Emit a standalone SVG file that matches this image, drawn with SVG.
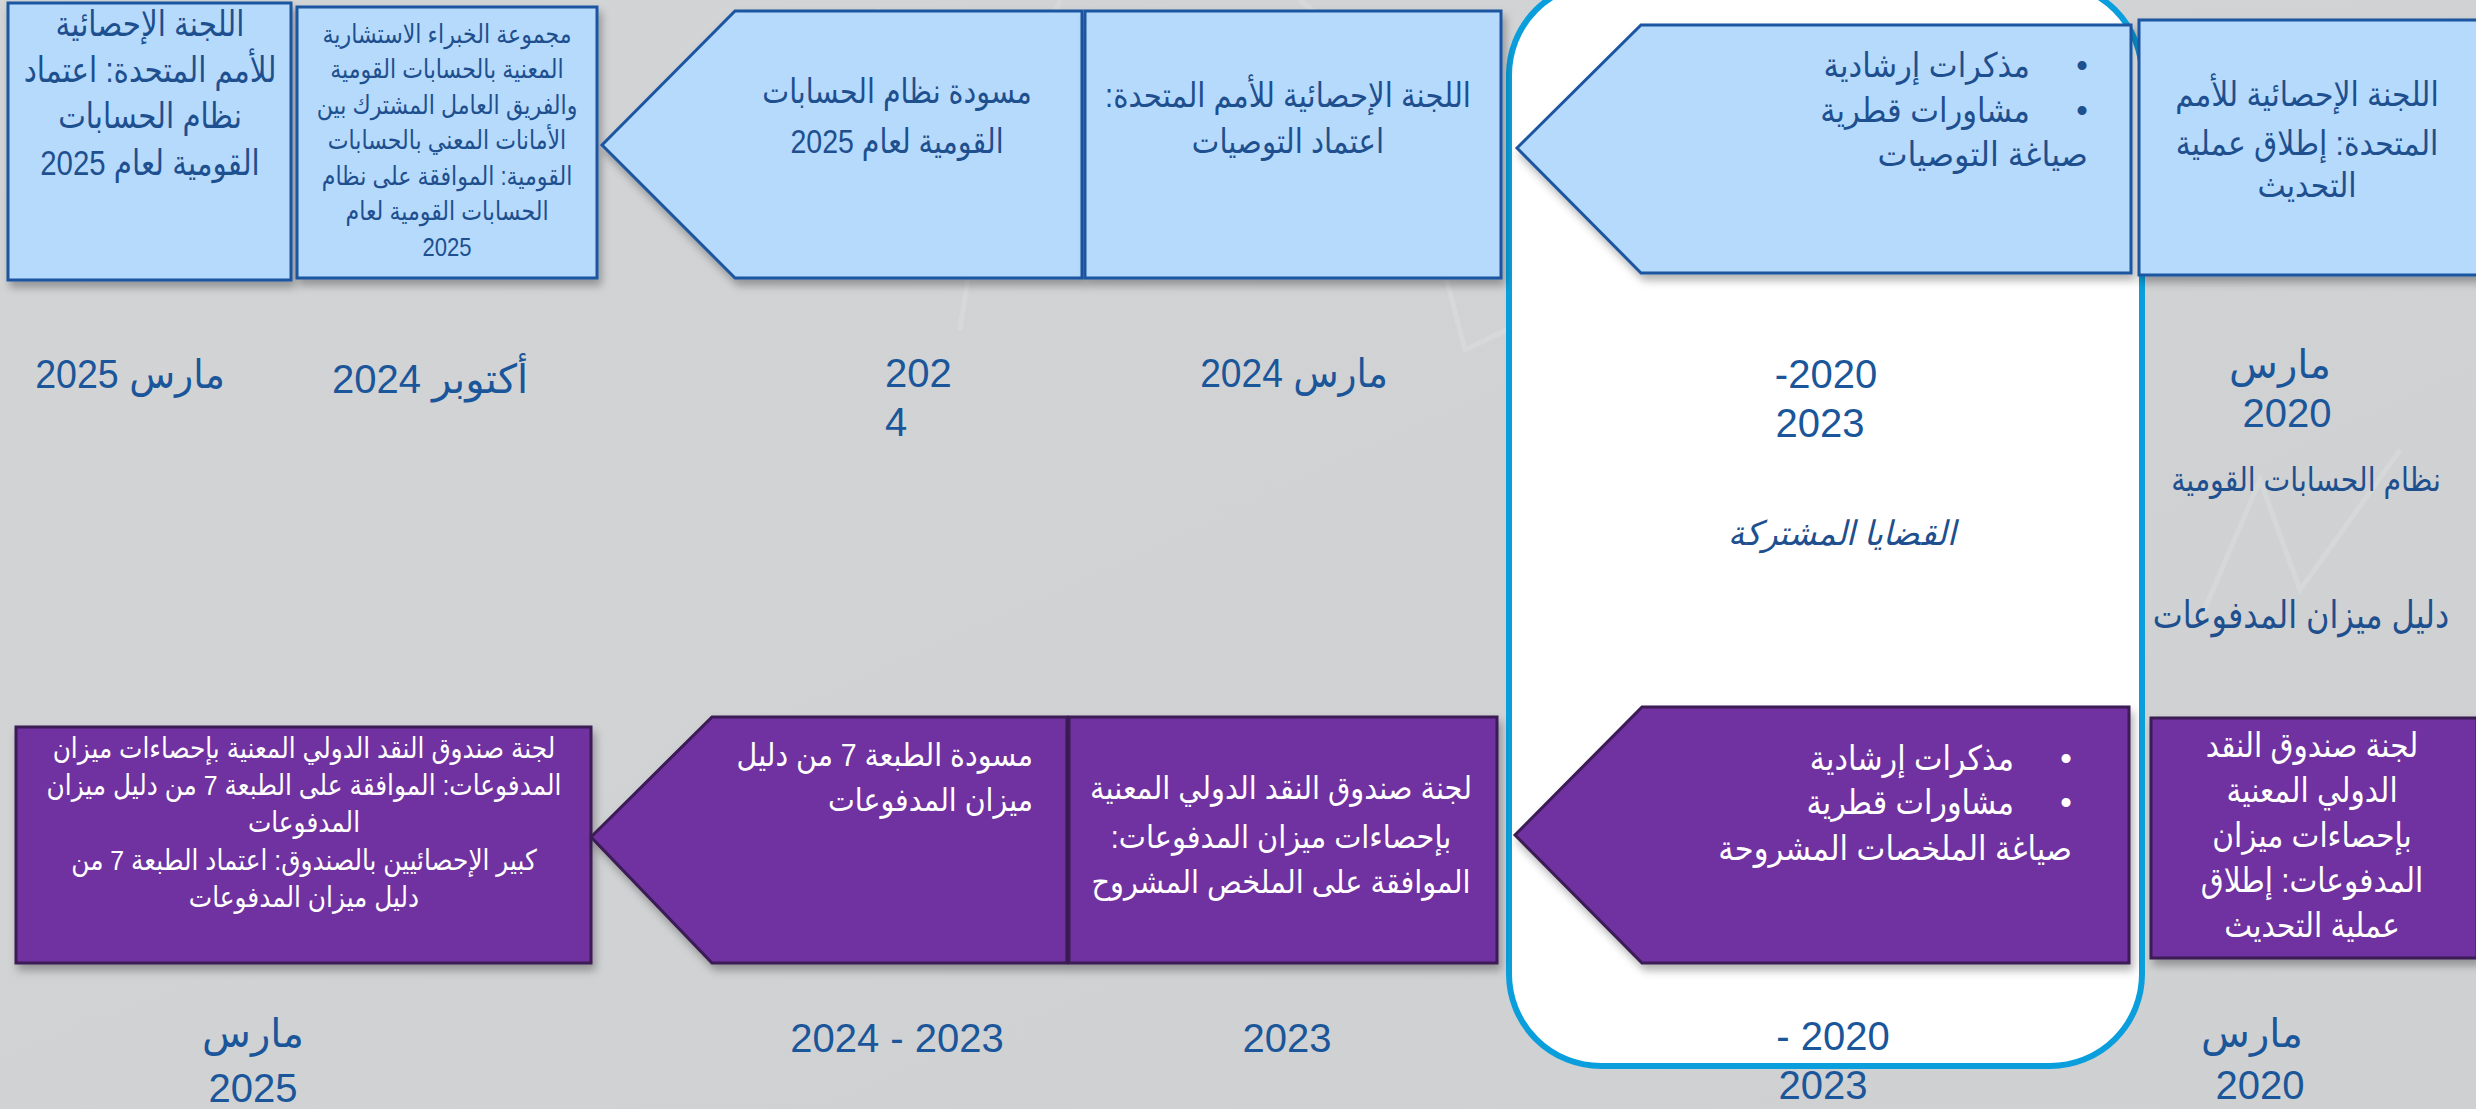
<svg xmlns="http://www.w3.org/2000/svg" width="2476" height="1109" viewBox="0 0 2476 1109">
<defs>
<linearGradient id="bg" x1="0" y1="0" x2="1" y2="1">
<stop offset="0" stop-color="#d3d4d6"/>
<stop offset="0.5" stop-color="#d1d2d4"/>
<stop offset="1" stop-color="#cfd0d2"/>
</linearGradient>
<filter id="sh" x="-5%" y="-5%" width="115%" height="125%">
<feDropShadow dx="3" dy="6" stdDeviation="4" flood-color="#000" flood-opacity="0.3"/>
</filter>
<filter id="lsh" x="-2%" y="-100%" width="104%" height="400%">
<feDropShadow dx="0" dy="4" stdDeviation="2.5" flood-color="#000" flood-opacity="0.3"/>
</filter>
<style>
text{font-family:"Liberation Sans","DejaVu Sans",sans-serif}
.blue{fill:#b6dafc;stroke:#1b54a0;stroke-width:3}
.purple{fill:#7030a0;stroke:#3a1a55;stroke-width:3}
.bt{fill:#1e4f8e;text-anchor:middle;direction:rtl}
.wt{fill:#ffffff;text-anchor:middle;direction:rtl}
.rt{text-anchor:start;direction:rtl}
.dt{fill:#1a5699;font-size:40px;text-anchor:middle;direction:rtl}
.bul{text-anchor:middle}
.line{stroke:#0a9ddb;stroke-width:6;fill:none}
.faint{stroke:#e0e4e6;stroke-width:5;fill:none;opacity:0.35}
</style>
</defs>
<rect x="0" y="0" width="2476" height="1109" fill="url(#bg)"/>
<g id="background-decor">
<polyline class="faint" points="790,30 830,40 880,10"/>
<polyline class="faint" points="1300,0 1395,80 1465,350 1568,300"/>
<polyline class="faint" points="1060,0 980,200 960,330"/>
<polyline class="faint" points="2200,620 2260,480 2300,590 2400,450"/>
</g>

<g id="highlight-common-issues">
<rect x="1509" y="-17" width="633" height="1083" rx="92" ry="92" fill="#ffffff" stroke="#0a9fdc" stroke-width="6"/>
</g>

<g id="connectors">
<line class="line" x1="0" y1="541" x2="1507" y2="541" filter="url(#lsh)"/>
<line class="line" x1="2165" y1="549" x2="2476" y2="549" filter="url(#lsh)"/>
</g>

<!-- Top row: SNA -->
<g id="sna-mar2025">
<rect class="blue" x="8" y="3" width="283" height="277" filter="url(#sh)"/>
<g transform="translate(150 0) scale(0.84 1)">
<text class="bt" font-size="35"><tspan x="0" y="36">اللجنة الإحصائية</tspan><tspan x="0" y="82">للأمم المتحدة: اعتماد</tspan><tspan x="0" y="128">نظام الحسابات</tspan><tspan x="0" y="175">القومية لعام 2025</tspan></text>
</g>
</g>
<g id="sna-oct2024">
<rect class="blue" x="297" y="7" width="300" height="271" filter="url(#sh)"/>
<g transform="translate(447 0) scale(0.85 1)">
<text class="bt" font-size="26"><tspan x="0" y="43">مجموعة الخبراء الاستشارية</tspan><tspan x="0" y="78">المعنية بالحسابات القومية</tspan><tspan x="0" y="114">والفريق العامل المشترك بين</tspan><tspan x="0" y="149">الأمانات المعني بالحسابات</tspan><tspan x="0" y="185">القومية: الموافقة على نظام</tspan><tspan x="0" y="220">الحسابات القومية لعام</tspan><tspan x="0" y="256">2025</tspan></text>
</g>
</g>
<g id="sna-draft2024">
<polygon class="blue" points="602,145 735,11 1082,11 1082,278 735,278" filter="url(#sh)"/>
<g transform="translate(897 0) scale(0.84 1)">
<text class="bt" font-size="34"><tspan x="0" y="103">مسودة نظام الحسابات</tspan><tspan x="0" y="153">القومية لعام 2025</tspan></text>
</g>
</g>
<g id="sna-mar2024">
<rect class="blue" x="1085" y="11" width="416" height="267" filter="url(#sh)"/>
<g transform="translate(1288 0) scale(0.86 1)">
<text class="bt" font-size="34"><tspan x="0" y="107">اللجنة الإحصائية للأمم المتحدة:</tspan><tspan x="0" y="153">اعتماد التوصيات</tspan></text>
</g>
</g>
<g id="sna-2020-2023">
<polygon class="blue" points="1517,148 1641,25 2131,25 2131,273 1641,273" filter="url(#sh)"/>
<text class="bt bul" font-size="33" x="2082" y="77">•</text>
<text class="bt bul" font-size="33" x="2082" y="122">•</text>
<g transform="translate(2030 0) scale(0.9 1)">
<text class="bt rt" font-size="34"><tspan x="0" y="77">مذكرات إرشادية</tspan><tspan x="0" y="122">مشاورات قطرية</tspan></text>
</g>
<g transform="translate(2088 0) scale(0.94 1)">
<text class="bt rt" font-size="34" x="0" y="166">صياغة التوصيات</text>
</g>
</g>
<g id="sna-mar2020">
<rect class="blue" x="2139" y="20" width="340" height="255" filter="url(#sh)"/>
<g transform="translate(2307 0) scale(0.88 1)">
<text class="bt" font-size="34"><tspan x="0" y="106">اللجنة الإحصائية للأمم</tspan><tspan x="0" y="155">المتحدة: إطلاق عملية</tspan><tspan x="0" y="197">التحديث</tspan></text>
</g>
</g>

<!-- Top dates -->
<g id="top-dates">
<text class="dt" x="130" y="388" transform="translate(130 0) scale(0.94 1) translate(-130 0)">مارس 2025</text>
<text class="dt" x="430" y="393">أكتوبر 2024</text>
<text class="dt" x="885" y="387" style="text-anchor:start;direction:ltr">202</text>
<text class="dt" x="885" y="436" style="text-anchor:start;direction:ltr">4</text>
<text class="dt" x="1294" y="387" transform="translate(1294 0) scale(0.93 1) translate(-1294 0)">مارس 2024</text>
<text class="dt" x="1826" y="388" font-size="43" style="direction:ltr">-2020</text>
<text class="dt" x="1820" y="437" font-size="43" style="direction:ltr">2023</text>
<text class="dt" x="2280" y="378" font-size="37">مارس</text>
<text class="dt" x="2287" y="427" font-size="37">2020</text>
</g>
<g id="labels">
<g transform="translate(2306 0) scale(0.86 1)"><text class="bt" x="0" y="491" font-size="33">نظام الحسابات القومية</text></g>
<g transform="translate(1842 0) scale(0.95 1)"><text class="bt" x="0" y="545" font-size="34" font-style="italic">القضايا المشتركة</text></g>
<g transform="translate(2301 0) scale(0.84 1)"><text class="bt" x="0" y="628" font-size="38">دليل ميزان المدفوعات</text></g>
</g>

<!-- Bottom row: BPM -->
<g id="bpm-mar2025">
<rect class="purple" x="16" y="727" width="575" height="236" filter="url(#sh)"/>
<g transform="translate(304 0) scale(0.87 1)">
<text class="wt" font-size="28.5"><tspan x="0" y="758">لجنة صندوق النقد الدولي المعنية بإحصاءات ميزان</tspan><tspan x="0" y="795">المدفوعات: الموافقة على الطبعة 7 من دليل ميزان</tspan><tspan x="0" y="832">المدفوعات</tspan><tspan x="0" y="870">كبير الإحصائيين بالصندوق: اعتماد الطبعة 7 من</tspan><tspan x="0" y="907">دليل ميزان المدفوعات</tspan></text>
</g>
</g>
<g id="bpm-draft2023-2024">
<polygon class="purple" points="591,837 712,717 1067,717 1067,963 712,963" filter="url(#sh)"/>
<g transform="translate(1033 0) scale(0.89 1)">
<text class="wt rt" font-size="32"><tspan x="0" y="766">مسودة الطبعة 7 من دليل</tspan><tspan x="0" y="811">ميزان المدفوعات</tspan></text>
</g>
</g>
<g id="bpm-2023">
<rect class="purple" x="1069" y="717" width="428" height="246" filter="url(#sh)"/>
<g transform="translate(1281 0) scale(0.9 1)">
<text class="wt" font-size="32"><tspan x="0" y="799">لجنة صندوق النقد الدولي المعنية</tspan><tspan x="0" y="848">بإحصاءات ميزان المدفوعات:</tspan><tspan x="0" y="893">الموافقة على الملخص المشروح</tspan></text>
</g>
</g>
<g id="bpm-2020-2023">
<polygon class="purple" points="1515,835 1642,707 2129,707 2129,963 1642,963" filter="url(#sh)"/>
<text class="wt bul" font-size="33" x="2066" y="770">•</text>
<text class="wt bul" font-size="33" x="2066" y="814">•</text>
<g transform="translate(2014 0) scale(0.89 1)">
<text class="wt rt" font-size="34"><tspan x="0" y="770">مذكرات إرشادية</tspan><tspan x="0" y="814">مشاورات قطرية</tspan></text>
</g>
<g transform="translate(2072 0) scale(0.9 1)">
<text class="wt rt" font-size="34" x="0" y="860">صياغة الملخصات المشروحة</text>
</g>
</g>
<g id="bpm-mar2020">
<rect class="purple" x="2151" y="718" width="326" height="240" filter="url(#sh)"/>
<g transform="translate(2312 0) scale(0.87 1)">
<text class="wt" font-size="34"><tspan x="0" y="757">لجنة صندوق النقد</tspan><tspan x="0" y="802">الدولي المعنية</tspan><tspan x="0" y="847">بإحصاءات ميزان</tspan><tspan x="0" y="892">المدفوعات: إطلاق</tspan><tspan x="0" y="937">عملية التحديث</tspan></text>
</g>
</g>

<!-- Bottom dates -->
<g id="bottom-dates">
<text class="dt" x="253" y="1047" font-size="37">مارس</text>
<text class="dt" x="253" y="1102">2025</text>
<text class="dt" x="897" y="1052" style="direction:ltr">2024 - 2023</text>
<text class="dt" x="1287" y="1052">2023</text>
<text class="dt" x="1833" y="1050" font-size="43" style="direction:ltr">- 2020</text>
<text class="dt" x="1823" y="1099" font-size="43" style="direction:ltr">2023</text>
<text class="dt" x="2252" y="1047" font-size="37">مارس</text>
<text class="dt" x="2260" y="1099" font-size="40">2020</text>
</g>
</svg>
